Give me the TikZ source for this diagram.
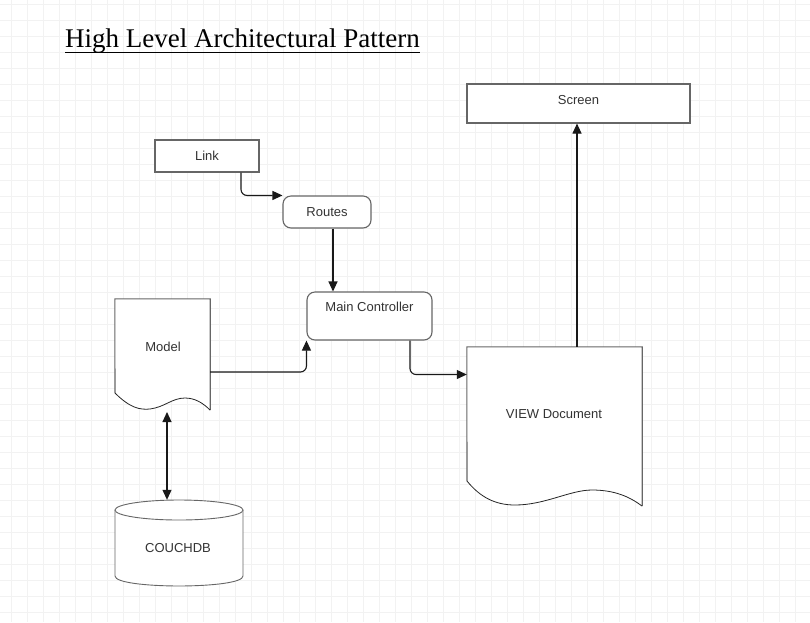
\documentclass[tikz,border=0pt]{standalone}
\usepackage{fontspec}
\setmainfont{Liberation Sans}
\newfontfamily\titlefont{Liberation Serif}
\usetikzlibrary{arrows.meta,calc}
\begin{document}
\begin{tikzpicture}[x=1pt,y=-1pt,
  box/.style={draw=black!60, line width=1.1pt, fill=white, inner sep=0pt},
  rbox/.style={box, rounded corners=8pt},
  txt/.style={font=\fontsize{13}{15}\selectfont, text=black!80, inner sep=0pt},
  ghost/.style={draw=none, inner sep=0pt},
  edgeline/.style={draw=black!60, line width=1.1pt},
  waveline/.style={draw=black!85, line width=0.8pt},
  conn/.style={draw=black!90, line width=1.1pt, -{Triangle[length=10pt,width=9pt]}},
  gridline/.style={draw=black!5, line width=0.6pt}]
\fill[white] (0,0) rectangle (810,622);
\useasboundingbox (0,0) rectangle (810,622);
% grid
\foreach \i in {0,...,50} { \draw[gridline] (11.3+16*\i,0) -- ++(0,622); }
\foreach \i in {0,...,38} { \draw[gridline] (0,4+16*\i) -- ++(810,0); }
% title
\node[anchor=base west, inner sep=0pt, font=\titlefont\fontsize{27}{30}\selectfont] (title) at (65,47) {High Level Architectural Pattern};
\draw[line width=1pt] (title.base west) ++(0,5) -- ($(title.base east)+(0,5)$);
% boxes
\node[box, txt, minimum width=104pt, minimum height=32pt] (link) at (207,156) {Link};
\node[rbox, txt, minimum width=88pt, minimum height=32pt] (routes) at (327,212) {Routes};
\node[rbox, minimum width=125pt, minimum height=48pt] (mc) at (369.5,316) {};
\node[txt] (mct) at (369.5,307) {Main Controller};
\node[box, minimum width=223pt, minimum height=39pt] (screen) at (578.5,103.5) {};
\node[txt] (screent) at (578.5,100) {Screen};
% model document
\node[ghost, minimum width=95pt, minimum height=111pt] (model) at (162.5,354.5) {};
\fill[white] (115,299) -- (210,299) -- (210,410) .. controls (203,403) and (195,398) .. (185,398) .. controls (172,398) and (165,407) .. (150,409) .. controls (140,410) and (130,408) .. (115,393) -- cycle;
\draw[edgeline] (115,393) -- (model.north west) -- (model.north east) -- (model.south east);
\draw[waveline] (210,410) .. controls (203,403) and (195,398) .. (185,398) .. controls (172,398) and (165,407) .. (150,409) .. controls (140,410) and (130,408) .. (115,393);
\node[txt] (modelt) at (163,347) {Model};
% view document
\node[ghost, minimum width=175pt, minimum height=159pt] (view) at (554.5,426.5) {};
\fill[white] (467,347) -- (642,347) -- (642,506) .. controls (630,497) and (615,490) .. (592,490) .. controls (570,490) and (545,505) .. (515,505) .. controls (495,505) and (480,497) .. (467,481) -- cycle;
\draw[edgeline] (467,481) -- (view.north west) -- (view.north east) -- (view.south east);
\draw[waveline] (642,506) .. controls (630,497) and (615,490) .. (592,490) .. controls (570,490) and (545,505) .. (515,505) .. controls (495,505) and (480,497) .. (467,481);
\node[txt] (viewt) at (554,414) {VIEW Document};
% couchdb cylinder
\node[ghost, minimum width=128pt, minimum height=86pt] (couch) at (179,543) {};
\fill[white] (115,510) -- (115,576) .. controls (115,589.3) and (243,589.3) .. (243,576) -- (243,510) -- cycle;
\draw[edgeline, line width=0.9pt] (115,510) -- (115,576) .. controls (115,589.3) and (243,589.3) .. (243,576) -- (243,510);
\draw[edgeline, line width=0.9pt, fill=white] (179,510) ellipse [x radius=64, y radius=10];
\node[txt] (coucht) at (178,548) {COUCHDB};
% connectors
\coordinate (lx) at (241,0);
\draw[conn, rounded corners=6pt] (link.south -| lx) |- (routes.north west);
\coordinate (rx) at (333,0);
\draw[conn] (routes.south -| rx) -- (mc.north -| rx);
\coordinate (my) at (0,372);
\draw[conn, rounded corners=6pt] (model.east |- my) -| (mc.south west);
\coordinate (cx) at (410,0);
\coordinate (vy) at (0,374.5);
\draw[conn, rounded corners=6pt] (mc.south -| cx) |- (view.west |- vy);
\coordinate (sx) at (577,0);
\draw[conn] (view.north -| sx) -- (screen.south -| sx);
\coordinate (dx) at (167,0);
\coordinate (dy) at (0,412);
\draw[draw=black!90, line width=1.1pt, {Triangle[length=10pt,width=9pt]}-{Triangle[length=10pt,width=9pt]}] (dx |- dy) -- (couch.north -| dx);
\end{tikzpicture}
\end{document}
